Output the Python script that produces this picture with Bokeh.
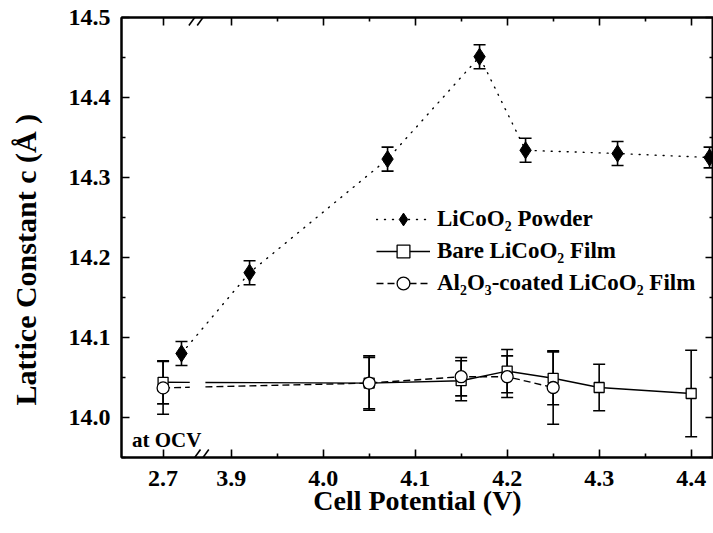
from bokeh.plotting import figure
from bokeh.models import (Range1d, FixedTicker, LinearAxis, PrintfTickFormatter, Whisker,
                          TeeHead, ColumnDataSource, Legend, LegendItem, Label, Arrow, Title)
from bokeh.embed import file_html
from bokeh.resources import INLINE

# ---------------- data ----------------
powder_v = [2.72, 3.92, 4.07, 4.17, 4.22, 4.32, 4.42]
powder_c = [14.080, 14.181, 14.323, 14.451, 14.334, 14.330, 14.325]
powder_err = [0.015, 0.015, 0.015, 0.015, 0.015, 0.015, 0.013]

bare_v = [2.70, 4.05, 4.15, 4.20, 4.25, 4.30, 4.40]
bare_c = [14.044, 14.043, 14.046, 14.058, 14.049, 14.0375, 14.030]
bare_err = [0.027, 0.034, 0.025, 0.027, 0.033, 0.029, 0.054]

coated_v = [2.70, 4.05, 4.15, 4.20, 4.25]
coated_c = [14.037, 14.043, 14.051, 14.051, 14.0375]
coated_err = [0.033, 0.032, 0.024, 0.026, 0.046]

x_tick_values = [2.7, 3.9, 4.0, 4.1, 4.2, 4.3, 4.4]
x_tick_labels = ["2.7", "3.9", "4.0", "4.1", "4.2", "4.3", "4.4"]
x_minor_values = [3.95, 4.05, 4.15, 4.25, 4.35]
y_tick_values = [14.0, 14.1, 14.2, 14.3, 14.4, 14.5]
y_minor_values = [13.95, 14.05, 14.15, 14.25, 14.35, 14.45]

series_names = ["LiCoO\u2082 Powder", "Bare LiCoO\u2082 Film", "Al\u2082O\u2083-coated LiCoO\u2082 Film"]
x_title = "Cell Potential (V)"
y_title = "Lattice Constant c (\u00c5 )"
note_text = "at OCV"

# ---------------- broken x axis ----------------
OCV_SHIFT = 1.126      # OCV values (< 3 V) are moved next to the break
OCV_LIMIT = 3.0
BREAK_X = 3.8635
GAP = 0.0085


def brk(v):
    return v + OCV_SHIFT if v < OCV_LIMIT else v


# ---------------- layout constants ----------------
W, H = 713, 533
BL, BT, BR, BB = 121, 17, 0, 76
FW, FH = W - BL - BR, H - BT - BB
X0 = 3.7808
PXV = 920.0
X1 = X0 + FW / PXV
Y0, Y1 = 13.95, 14.5
PXC = FH / (Y1 - Y0)


def fx(px):
    return X0 + (px - BL) / PXV


def fy(py):
    return Y1 - (py - BT) / PXC


FONT = "Liberation Serif"

p = figure(width=W, height=H, x_range=Range1d(X0, X1), y_range=Range1d(Y0, Y1),
           output_backend="svg", toolbar_location=None,
           min_border_left=BL, min_border_right=BR, min_border_top=BT, min_border_bottom=BB)
p.grid.visible = False
p.outline_line_color = "black"
p.outline_line_width = 2
p.background_fill_color = "white"
p.border_fill_color = "white"

xticker = FixedTicker(ticks=[brk(v) for v in x_tick_values],
                      minor_ticks=[brk(v) for v in x_minor_values])
yticker = FixedTicker(ticks=y_tick_values, minor_ticks=y_minor_values)


def style_axis(ax, labels=True):
    ax.axis_line_width = 2
    ax.major_tick_in = 8
    ax.major_tick_out = 0
    ax.minor_tick_in = 4
    ax.minor_tick_out = 0
    ax.major_tick_line_width = 1.6
    ax.minor_tick_line_width = 1.6
    ax.major_label_text_font = FONT
    ax.major_label_text_font_style = "bold"
    ax.major_label_text_color = "black"
    if labels:
        ax.major_label_text_font_size = "24px"
    else:
        ax.major_label_text_font_size = "1px"
        ax.major_label_standoff = 0


xa = p.xaxis[0]
xa.ticker = xticker
xa.major_label_overrides = {brk(v): lab for v, lab in zip(x_tick_values, x_tick_labels)}
style_axis(xa)
xa.major_label_standoff = 13
xa.axis_label = x_title
xa.axis_label_text_font = FONT
xa.axis_label_text_font_style = "bold"
xa.axis_label_text_font_size = "28px"
xa.axis_label_text_color = "black"
xa.axis_label_standoff = -4

ya = p.yaxis[0]
ya.ticker = yticker
ya.formatter = PrintfTickFormatter(format="%.1f")
style_axis(ya)
ya.major_label_standoff = 11

top = LinearAxis(ticker=xticker)
style_axis(top, labels=False)
top.major_label_overrides = {brk(v): "" for v in x_tick_values}
p.add_layout(top, "above")
right = LinearAxis(ticker=yticker)
style_axis(right, labels=False)
right.major_label_overrides = {v: "" for v in y_tick_values}
p.add_layout(right, "right")

# invisible spacer axis: leaves a gap between the tick labels and the y title
spacer = LinearAxis(ticker=yticker, axis_line_color=None, major_tick_line_color=None,
                    minor_tick_line_color=None, major_tick_in=0, major_tick_out=22,
                    minor_tick_in=0, minor_tick_out=0, major_label_text_font_size="1px",
                    major_label_standoff=0)
spacer.major_label_overrides = {v: "" for v in y_tick_values}
p.add_layout(spacer, "left")

# y-axis title, placed in the left panel (start of text 52 px above the frame bottom)
p.add_layout(Title(text=y_title, align="left", offset=52, standoff=4,
                   text_font=FONT, text_font_style="bold", text_font_size="30px",
                   text_color="black"), "left")


# ---------------- lines ----------------
def film_line(vs, cs):
    xs, ys = [], []
    for i, (v, c) in enumerate(zip(vs, cs)):
        x = brk(v)
        if i > 0 and vs[i - 1] < OCV_LIMIT <= v:
            xp, cp = brk(vs[i - 1]), cs[i - 1]
            for xb in (BREAK_X - GAP, None, BREAK_X + GAP):
                if xb is None:
                    xs.append(float("nan"))
                    ys.append(float("nan"))
                else:
                    xs.append(xb)
                    ys.append(cp + (c - cp) * (xb - xp) / (x - xp))
        xs.append(x)
        ys.append(c)
    return xs, ys


pl = p.line([brk(v) for v in powder_v], powder_c, line_color="black", line_width=1.4,
            line_dash="1 7", line_cap="round")
bx, by = film_line(bare_v, bare_c)
bl = p.line(bx, by, line_color="black", line_width=1.4)
cx, cy = film_line(coated_v, coated_c)
cl = p.line(cx, cy, line_color="black", line_width=1.4, line_dash="7 4")


# ---------------- error bars ----------------
def add_err(vs, cs, es):
    src = ColumnDataSource(dict(x=[brk(v) for v in vs],
                                upper=[c + e for c, e in zip(cs, es)],
                                lower=[c - e for c, e in zip(cs, es)]))
    w = Whisker(source=src, base="x", upper="upper", lower="lower", line_width=1.6,
                line_color="black", level="underlay",
                upper_head=TeeHead(size=12, line_width=1.6, line_color="black"),
                lower_head=TeeHead(size=12, line_width=1.6, line_color="black"))
    p.add_layout(w)


add_err(powder_v, powder_c, powder_err)
add_err(bare_v, bare_c, bare_err)
add_err(coated_v, coated_c, coated_err)

# ---------------- markers ----------------
ps = p.scatter([brk(v) for v in powder_v], powder_c, marker="diamond", size=17,
               fill_color="black", line_color="black")
bs = p.scatter([brk(v) for v in bare_v], bare_c, marker="square", size=10,
               fill_color="white", line_color="black", line_width=1.3)
cs_ = p.scatter([brk(v) for v in coated_v], coated_c, marker="circle", size=12,
                fill_color="white", line_color="black", line_width=1.3)

# ---------------- legend ----------------
legend = Legend(items=[LegendItem(label=series_names[0], renderers=[pl, ps]),
                       LegendItem(label=series_names[1], renderers=[bl, bs]),
                       LegendItem(label=series_names[2], renderers=[cl, cs_])],
                location=(255, 158), orientation="vertical",
                glyph_width=54, glyph_height=32, label_height=32, label_standoff=7,
                spacing=0, padding=0, margin=0, border_line_color=None,
                background_fill_alpha=0,
                label_text_font=FONT, label_text_font_style="bold",
                label_text_font_size="23px", label_text_color="black")
p.add_layout(legend)

# ---------------- "at OCV" note ----------------
p.add_layout(Label(x=fx(131.5), y=fy(439), text=note_text, text_font=FONT,
                   text_font_style="bold", text_font_size="21px", text_color="black",
                   text_align="left", text_baseline="alphabetic"))

# ---------------- axis break marks ----------------
for y_edge in (Y0, Y1):
    for cpx in (194.2, 202.5):
        p.add_layout(Arrow(end=None, x_start=fx(cpx - 5.8), y_start=y_edge - 8 / PXC,
                           x_end=fx(cpx + 5.8), y_end=y_edge + 8 / PXC,
                           line_color="black", line_width=1.6))

open("out.html", "w").write(file_html(p, INLINE))
